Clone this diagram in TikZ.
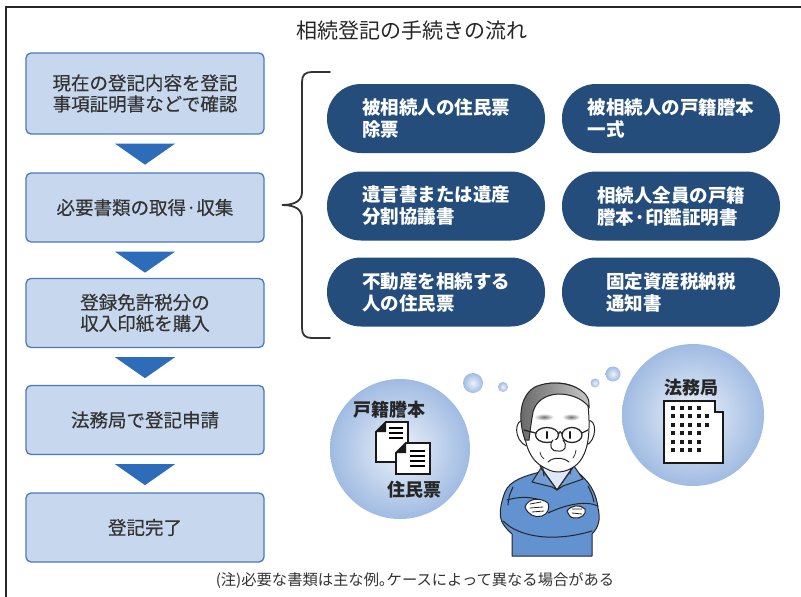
\documentclass[tikz,border=0pt]{standalone}
\usepackage{fontspec}
\setmainfont{Noto Sans CJK JP}
\newfontfamily\medfont{Noto Sans CJK JP}[FakeBold=0.4]
\usetikzlibrary{calc}

\definecolor{boxfill}{RGB}{199,215,238}
\definecolor{boxline}{RGB}{72,122,190}
\definecolor{trifill}{RGB}{44,108,184}
\definecolor{pillfill}{RGB}{36,77,124}
\definecolor{ink}{RGB}{51,51,51}
\definecolor{bubin}{RGB}{236,242,250}
\definecolor{bubout}{RGB}{160,187,226}
\definecolor{sweater}{RGB}{98,146,208}
\definecolor{shirt}{RGB}{222,232,246}

\begin{document}
\begin{tikzpicture}[x=1pt,y=-1pt,
  frameline/.style={line width=2pt,black!85},
  titletext/.style={font=\fontsize{21}{24}\selectfont,text=black!85,inner sep=0pt},
  stepbox/.style={rectangle,rounded corners=5pt,fill=boxfill,draw=boxline,line width=1.3pt,
    minimum width=238pt,minimum height=69pt,align=center,text=ink,inner sep=0pt,
    font=\medfont\fontsize{18.5}{21}\selectfont},
  steptri/.style={fill=trifill},
  docpill/.style={rectangle,rounded corners=34pt,fill=pillfill,minimum width=218pt,
    minimum height=69pt,text=white,align=left,inner sep=0pt,
    font=\bfseries\fontsize{18.5}{22}\selectfont},
  bracket/.style={line width=1.8pt,black!80,line cap=round},
  bubble/.style={circle,inner sep=0pt,inner color=bubin,outer color=bubout},
  icontext/.style={font=\bfseries\fontsize{18}{20}\selectfont,text=black!85,inner sep=0pt},
  iconline/.style={line width=1.8pt,black!90},
  manline/.style={line width=1pt,black!85,line join=round,line cap=round},
  foot/.style={font=\fontsize{15.3}{17}\selectfont,text=ink,inner sep=0pt}
]
\useasboundingbox (0,0) rectangle (801,597);
\fill[white] (0,0) rectangle (801,597);
\draw[frameline] (6,597) -- (6,6.5) -- (801,6.5);

% heading
\node[titletext] (title) at (412,31) {相続登記の手続きの流れ};

% procedure steps
\node[stepbox,minimum height=81pt] (s1) at (145,93.5) {現在の登記内容を登記\\事項証明書などで確認};
\node[stepbox] (s2) at (145,207.5) {必要書類の取得·収集};
\node[stepbox] (s3) at (145,313) {登録免許税分の\\収入印紙を購入};
\node[stepbox] (s4) at (145,420) {法務局で登記申請};
\node[stepbox] (s5) at (145,527.5) {登記完了};

% downward triangles between steps
\foreach \a in {s1,s2,s3,s4}{
  \fill[steptri] ($(\a.south)+(-30,9)$) -- ($(\a.south)+(30,9)$) -- ($(\a.south)+(0,30)$) -- cycle;
}

% brace grouping the required documents
\draw[bracket] (330,72) -- (312,72) .. controls (305,72) and (302,75) .. (302,82)
  -- (302,192) .. controls (302,200) and (296,205) .. (282,205)
  .. controls (296,205) and (302,210) .. (302,218)
  -- (302,328) .. controls (302,335) and (305,338) .. (312,338) -- (330,338);

% required documents
\node[docpill] (d1) at (436,118.5) {被相続人の住民票\\除票};
\node[docpill] (d2) at (671,118.5) {被相続人の戸籍謄本\\一式};
\node[docpill] (d3) at (436,206) {遺言書または遺産\\分割協議書};
\node[docpill] (d4) at (671,206) {相続人全員の戸籍\\謄本·印鑑証明書};
\node[docpill] (d5) at (436,292) {不動産を相続する\\人の住民票};
\node[docpill] (d6) at (671,292) {固定資産税納税\\通知書};

% thought bubbles
\node[bubble,minimum size=140pt] (cl) at (400,449) {};
\node[bubble,minimum size=142pt] (cr) at (693,415) {};
\node[bubble,minimum size=20pt] (b1) at (473,383) {};
\node[bubble,minimum size=10pt] (b2) at (503,387) {};
\node[bubble,minimum size=9pt] (b3) at (595,383) {};
\node[bubble,minimum size=15pt] (b4) at (613,374) {};

% two documents
\node[icontext] (koseki) at (389,410) {戸籍謄本};
\filldraw[iconline,fill=white] (386,422) -- (408,422) -- (408,462) -- (376,462) -- (376,432) -- cycle;
\fill[black!90] (376,432) -- (386,432) -- (386,422) -- cycle;
\foreach \yy in {428,433,438}{\draw[line width=1.2pt] (389,\yy) -- (403,\yy);}
\filldraw[iconline,fill=white] (406,443) -- (430,443) -- (430,474) -- (396,474) -- (396,453) -- cycle;
\fill[black!90] (396,453) -- (406,453) -- (406,443) -- cycle;
\foreach \yy in {451,456,461,466}{\draw[line width=1.2pt] (410,\yy) -- (425,\yy);}
\node[icontext] (jumin) at (414,490) {住民票};

% legal affairs bureau building
\node[icontext] (homu) at (691,388) {法務局};
\filldraw[iconline,fill=white] (664,401) -- (715,401) -- (715,412) -- (723,412) -- (723,463) -- (664,463) -- cycle;
\foreach \r/\n in {0/4,1/5,2/5,3/4,4/4,5/4}{
  \foreach \c in {1,...,\n}{
    \fill[black!90] ({673+8.5*(\c-1)-2},{408+8.4*\r-2}) rectangle ++(4,4);
  }
}

% man with crossed arms
\filldraw[manline,fill=sweater] (540,472) .. controls (525,476) and (510,480) .. (505,492)
  .. controls (500,505) and (499,515) .. (502,522) .. controls (505,528) and (510,532) .. (512,534)
  -- (512,556) -- (592,556) -- (592,534) .. controls (598,528) and (601,520) .. (598,508)
  .. controls (596,492) and (590,482) .. (575,470) -- cycle;
\filldraw[manline,fill=shirt] (540,466) -- (557,490) -- (575,464) -- cycle;
\filldraw[manline,fill=sweater!90!white] (541,468) -- (532,482) -- (552,487) -- (557,490) -- cycle;
\filldraw[manline,fill=sweater!90!white] (574,466) -- (583,479) -- (563,486) -- (557,490) -- cycle;
\draw[manline] (542,462) -- (544,476);
\draw[manline] (572,461) -- (570,474);
% arms
\draw[manline] (503,521) .. controls (520,538) and (555,542) .. (592,531);
\draw[manline] (507,500) .. controls (518,497) and (528,496) .. (540,500);
\draw[manline] (598,506) .. controls (585,500) and (565,505) .. (548,513);
\draw[manline] (513,487) .. controls (509,496) .. (508,505);
\draw[manline] (588,486) .. controls (592,494) .. (594,502);
% hands
\filldraw[manline,fill=white] (525,507) .. controls (528,498) and (540,497) .. (548,503)
  .. controls (550,508) and (548,514) .. (542,516) .. controls (535,518) and (528,515) .. (525,507) -- cycle;
\draw[manline,line width=0.8pt] (530,504) -- (541,502) (530,508) -- (543,507) (532,512) -- (544,511);
\filldraw[manline,fill=white] (567,511) .. controls (571,505) and (580,504) .. (585,509)
  .. controls (587,514) and (581,519) .. (574,518) .. controls (570,517) .. (567,511) -- cycle;
\draw[manline,line width=0.8pt] (572,509) -- (582,509) (572,513) -- (582,514);
% ears and face
\filldraw[manline,fill=white] (525,421) .. controls (514,417) and (513,441) .. (527,446);
\filldraw[manline,fill=white] (587,421) .. controls (597,417) and (598,441) .. (585,446);
\filldraw[manline,fill=white] (524,410) .. controls (522,440) and (528,460) .. (545,468)
  .. controls (555,474) and (565,473) .. (575,466) .. controls (588,456) and (591,435) .. (588,405)
  .. controls (585,388) and (570,383) .. (555,383) .. controls (538,383) and (525,392) .. (524,410) -- cycle;
% hair
\shade[left color=black!60,right color=black!22,draw=black!85,line width=1pt]
  (525,440) .. controls (518,420) and (519,396) .. (535,387) .. controls (550,380) and (575,382) .. (586,395)
  .. controls (589,400) .. (589,407) .. controls (582,398) and (570,394) .. (558,394)
  .. controls (545,395) and (536,401) .. (533,412) .. controls (531,424) .. (529,440) -- cycle;
% eyebrows
\shade[inner color=black!55,outer color=white] (544,417) ellipse (10 and 3.5);
\shade[inner color=black!55,outer color=white] (571,417) ellipse (9 and 3.5);
% glasses and eyes
\draw[manline,line width=1.3pt] (547,435) ellipse (11.5 and 7.5);
\draw[manline,line width=1.3pt] (572,435) ellipse (10 and 7.5);
\draw[manline,line width=1.3pt] (558.5,434) .. controls (560,431) .. (562,434);
\draw[manline,line width=1.3pt] (535.5,433) -- (524,430) (582,433) -- (588,430);
\draw[line width=2.2pt,black!90,line cap=round] (547,432) -- (547,438) (570,432) -- (570,438);
% nose, mouth, wrinkles
\filldraw[manline,fill=white] (553,440) .. controls (548,446) and (552,452) .. (558,451)
  .. controls (565,452) and (568,446) .. (563,440);
\draw[manline] (548,462) .. controls (553,457) and (563,457) .. (569,462);
\draw[manline,line width=0.7pt] (540,452) .. controls (541,456) .. (544,459) (576,450) .. controls (575,455) .. (573,458);

% note
\node[foot] (note) at (415,581) {(注)必要な書類は主な例｡ケースによって異なる場合がある};
\end{tikzpicture}
\end{document}
